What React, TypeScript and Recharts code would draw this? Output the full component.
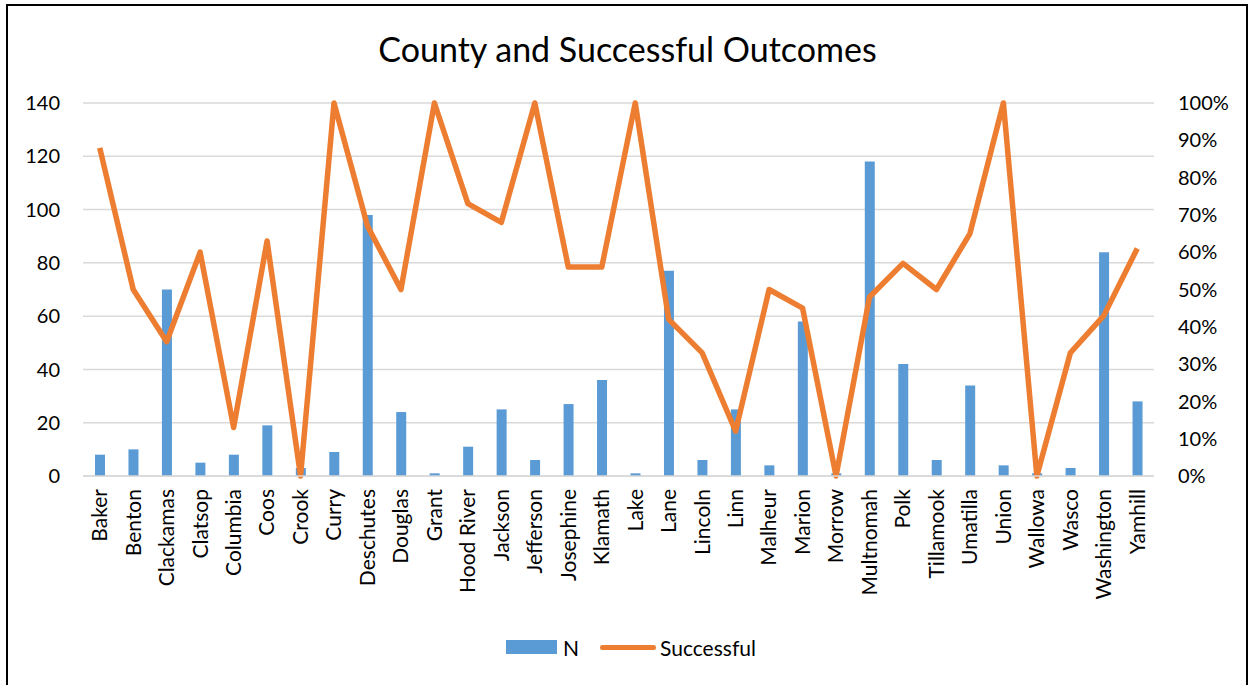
import React from "react"
import {
  ComposedChart,
  Bar,
  Line,
  XAxis,
  YAxis,
  CartesianGrid,
} from "recharts"

const counties = [
  "Baker", "Benton", "Clackamas", "Clatsop", "Columbia", "Coos", "Crook", "Curry",
  "Deschutes", "Douglas", "Grant", "Hood River", "Jackson", "Jefferson", "Josephine",
  "Klamath", "Lake", "Lane", "Lincoln", "Linn", "Malheur", "Marion", "Morrow",
  "Multnomah", "Polk", "Tillamook", "Umatilla", "Union", "Wallowa", "Wasco",
  "Washington", "Yamhill",
]

const nValues = [
  8, 10, 70, 5, 8, 19, 3, 9, 98, 24, 1, 11, 25, 6, 27, 36, 1, 77, 6, 25, 4, 58, 1,
  118, 42, 6, 34, 4, 1, 3, 84, 28,
]

const successValues = [
  0.88, 0.5, 0.36, 0.6, 0.13, 0.63, 0, 1, 0.67, 0.5, 1, 0.73, 0.68, 1, 0.56, 0.56,
  1, 0.42, 0.33, 0.12, 0.5, 0.45, 0, 0.48, 0.57, 0.5, 0.65, 1, 0, 0.33, 0.43, 0.61,
]

const leftTicks = [0, 20, 40, 60, 80, 100, 120, 140]
const rightTicks = [0, 0.1, 0.2, 0.3, 0.4, 0.5, 0.6, 0.7, 0.8, 0.9, 1]

const data = counties.map((county, i) => ({
  county,
  n: nValues[i],
  successful: successValues[i],
}))

const FONT = "Lato, 'Open Sans', sans-serif"
const BLUE = "#5B9BD5"
const ORANGE = "#ED7D31"

function CountyTick(props: any) {
  const { x, y, payload } = props
  return (
    <g transform={`translate(${x},${y})`}>
      <text
        transform="rotate(-90)"
        textAnchor="end"
        dy="0.35em"
        fill="#000"
        fontSize={21}
        fontFamily={FONT}
      >
        {payload.value}
      </text>
    </g>
  )
}

export default function App() {
  return (
    <div style={{ position: "absolute", left: 0, top: 0, width: 1248, height: 685, overflow: "hidden", background: "#fff" }}>
      <div
        style={{
          position: "absolute",
          left: 6,
          top: 4,
          width: 1242,
          height: 700,
          border: "2px solid #000",
          boxSizing: "border-box",
        }}
      />
      <div
        style={{
          position: "absolute",
          left: 0,
          width: 1255,
          top: 29,
          textAlign: "center",
          fontFamily: FONT,
          fontSize: 34,
          lineHeight: "40px",
          color: "#000",
        }}
      >
        County and Successful Outcomes
      </div>
      <div style={{ position: "absolute", left: 0, top: 0 }}>
        <ComposedChart
          width={1248}
          height={685}
          data={data}
          margin={{ top: 103, right: 24, bottom: 79, left: 23 }}
        >
          <CartesianGrid vertical={false} stroke="#D9D9D9" strokeWidth={1.5} yAxisId="left" />
          <XAxis
            dataKey="county"
            interval={0}
            height={130}
            tick={<CountyTick />}
            tickLine={false}
            tickSize={0}
            tickMargin={13}
            axisLine={{ stroke: "#D9D9D9", strokeWidth: 1.5 }}
          />
          <YAxis
            yAxisId="left"
            orientation="left"
            width={60}
            domain={[0, 140]}
            ticks={leftTicks}
            tickLine={false}
            axisLine={false}
            tickSize={0}
            tickMargin={23}
            tick={{ fill: "#000", fontSize: 20, fontFamily: FONT }}
          />
          <YAxis
            yAxisId="right"
            orientation="right"
            width={70}
            domain={[0, 1]}
            ticks={rightTicks}
            tickLine={false}
            axisLine={false}
            tickSize={0}
            tickMargin={24}
            tickFormatter={(v: number) => `${Math.round(v * 100)}%`}
            tick={{ fill: "#000", fontSize: 20, fontFamily: FONT, textAnchor: "start" }}
          />
          <Bar
            yAxisId="left"
            dataKey="n"
            name="N"
            fill={BLUE}
            barSize={10}
            isAnimationActive={false}
          />
          <Line
            yAxisId="right"
            type="linear"
            dataKey="successful"
            name="Successful"
            stroke={ORANGE}
            strokeWidth={5.5}
            strokeLinejoin="round"
            dot={false}
            activeDot={false}
            isAnimationActive={false}
          />
        </ComposedChart>
      </div>
      <div
        style={{
          position: "absolute",
          top: 634,
          left: 506,
          display: "flex",
          alignItems: "center",
          fontFamily: FONT,
          fontSize: 21,
          color: "#000",
          height: 26,
        }}
      >
        <span style={{ display: "inline-block", width: 51, height: 14, background: BLUE }} />
        <span style={{ marginLeft: 6 }}>N</span>
        <span
          style={{
            display: "inline-block",
            width: 56,
            height: 5,
            borderRadius: 3,
            background: ORANGE,
            marginLeft: 21,
          }}
        />
        <span style={{ marginLeft: 4 }}>Successful</span>
      </div>
    </div>
  )
}
